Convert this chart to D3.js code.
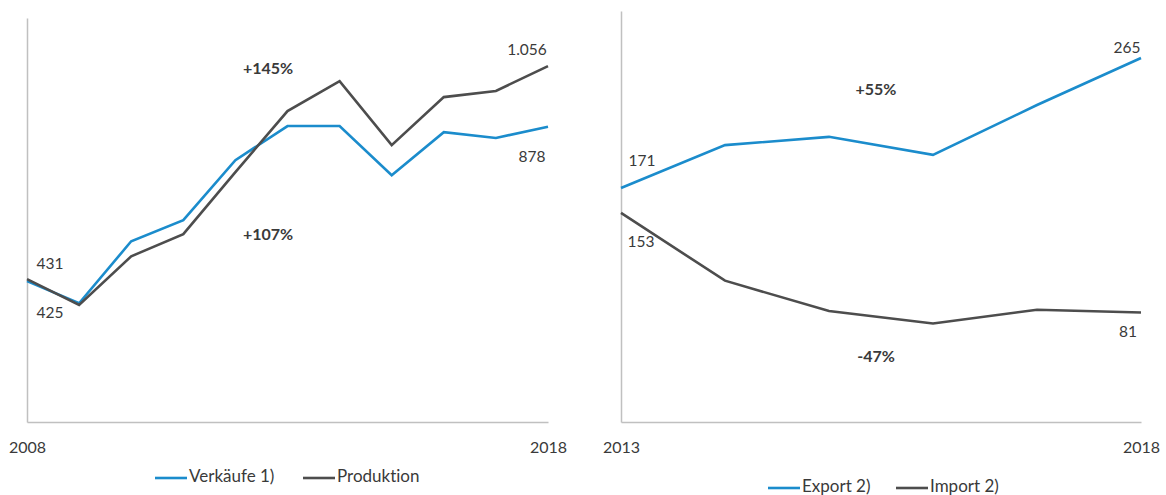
<!DOCTYPE html>
<html>
<head>
<meta charset="utf-8">
<script src="https://cdn.jsdelivr.net/npm/d3@7"></script>
<style>
  body { margin: 0; background: #fff; }
  text { font-family: Lato, "Open Sans", sans-serif; fill: #3a3a3a; font-variant-ligatures: none; }
</style>
</head>
<body>
<svg id="chart" width="1166" height="495"></svg>
<script>
// left chart: 2008 - 2018
const years1 = [2008, 2009, 2010, 2011, 2012, 2013, 2014, 2015, 2016, 2017, 2018]
const verkaeufe = [425, 360, 542, 604, 780, 880, 880, 736, 862, 845, 878]
const produktion = [431, 355, 498, 563, 745, 924, 1012, 824, 965, 983, 1056]

// right chart: 2013 - 2018
const years2 = [2013, 2014, 2015, 2016, 2017, 2018]
const exportVals = [171, 202, 208, 195, 231, 265]
const importVals = [153, 104, 82, 73, 83, 81]

const blue = "#1b8ccc",
    dark = "#4d4d4d",
    axisGray = "#c0c0c0";

const svg = d3.select("#chart")

function drawPanel(cfg) {
  const x = d3.scaleLinear().domain(d3.extent(cfg.years)).range([cfg.x0, cfg.x1])
  const y = d3.scaleLinear().domain([0, cfg.yMax]).range([cfg.yBase, cfg.yTop])

  const g = svg.append("g")

  // x axis: only first and last year
  g.append("g")
    .attr("transform", `translate(0,${cfg.yAxis})`)
    .call(d3.axisBottom(x).tickValues(d3.extent(cfg.years)).tickFormat(d3.format("d")).tickSize(0).tickPadding(20).tickSizeOuter(0))
    .call(a => a.select(".domain").attr("stroke", axisGray).attr("stroke-width", 1.5))
    .call(a => a.selectAll("text").style("font-size", "16px").style("font-family", "Lato").attr("fill", "#333"))

  // y axis: line only
  g.append("g")
    .attr("transform", `translate(${cfg.x0},0)`)
    .call(d3.axisLeft(d3.scaleLinear().range([cfg.yAxis, cfg.axisTop])).ticks(0).tickSizeOuter(0))
    .call(a => a.select(".domain").attr("stroke", axisGray).attr("stroke-width", 1.5))

  const line = d3.line().x((d, i) => x(cfg.years[i])).y(d => y(d))

  cfg.series.forEach(s => {
    g.append("path")
      .datum(s.values)
      .attr("d", line)
      .attr("fill", "none")
      .attr("stroke", s.color)
      .attr("stroke-width", 2.6)
      .attr("stroke-linejoin", "miter")
  })

  // value labels at start and end
  cfg.labels.forEach(l => {
    const s = cfg.series[l.s]
    const idx = l.end ? s.values.length - 1 : 0
    const v = s.values[idx]
    g.append("text")
      .attr("x", x(cfg.years[idx]) + l.dx)
      .attr("y", y(v) + l.dy)
      .attr("text-anchor", "middle")
      .attr("dominant-baseline", "middle")
      .style("font-size", "15.5px")
      .text(l.fmt ? l.fmt(v) : v)
  })

  // change annotations
  cfg.notes.forEach(n => {
    g.append("text")
      .attr("x", n.x).attr("y", n.y)
      .attr("text-anchor", "middle")
      .attr("dominant-baseline", "middle")
      .style("font-size", "16px")
      .style("font-weight", "bold")
      .attr("fill", "#1a1a1a")
      .text(n.text)
  })

  // legend
  cfg.legend.forEach(l => {
    g.append("line").attr("x1", l.x).attr("x2", l.x + 32).attr("y1", cfg.legendY).attr("y2", cfg.legendY)
      .attr("stroke", l.color).attr("stroke-width", 2.6)
    g.append("text").attr("x", l.x + 34).attr("y", cfg.legendY).attr("dominant-baseline", "middle")
      .style("font-size", "17px").text(l.text)
  })
}

const dot = d3.formatLocale({decimal: ",", thousands: ".", grouping: [3]}).format(",d")

drawPanel({
  years: years1, x0: 27, x1: 548, yMax: 1200, yBase: 426, yTop: 17,
  yAxis: 422, axisTop: 18,
  series: [{values: verkaeufe, color: blue}, {values: produktion, color: dark}],
  labels: [
    {s: 1, end: false, dx: 23, dy: -14},
    {s: 0, end: false, dx: 23, dy: 33},
    {s: 1, end: true, dx: -21, dy: -15, fmt: dot},
    {s: 0, end: true, dx: -16, dy: 31}
  ],
  notes: [{x: 268, y: 70, text: "+145%"}, {x: 268, y: 236, text: "+107%"}],
  legendY: 478,
  legend: [{x: 155, color: blue, text: "Verkäufe 1)"}, {x: 303, color: dark, text: "Produktion"}]
})

drawPanel({
  years: years2, x0: 621, x1: 1141, yMax: 300, yBase: 424.5, yTop: 424.5 - 300 * 1.383,
  yAxis: 422, axisTop: 11,
  series: [{values: exportVals, color: blue}, {values: importVals, color: dark}],
  labels: [
    {s: 0, end: false, dx: 21, dy: -26},
    {s: 1, end: false, dx: 20, dy: 30},
    {s: 0, end: true, dx: -14, dy: -9},
    {s: 1, end: true, dx: -13, dy: 21}
  ],
  notes: [{x: 876, y: 91, text: "+55%"}, {x: 876, y: 358, text: "-47%"}],
  legendY: 488,
  legend: [{x: 768, color: blue, text: "Export 2)"}, {x: 896, color: dark, text: "Import 2)"}]
})
</script>
</body>
</html>
